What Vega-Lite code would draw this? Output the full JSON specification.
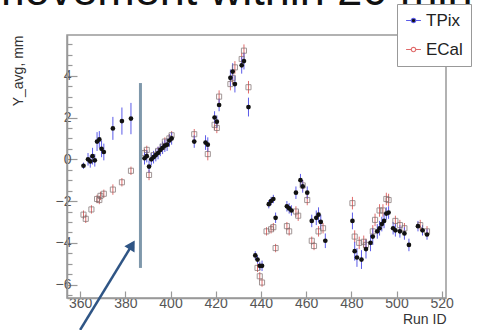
{
  "$schema": "https://vega.github.io/schema/vega-lite/v6.json",
  "width": 379,
  "height": 263,
  "autosize": "none",
  "padding": {"left": 67, "top": 35, "right": 34, "bottom": 32},
  "background": "white",
  "config": {
    "font": "Liberation Sans",
    "view": {"stroke": "#999", "strokeWidth": 1.5},
    "axis": {"grid": false, "domainColor": "#999", "domainWidth": 1.5, "tickColor": "#999", "labelColor": "#555", "titleColor": "#333", "labelFont": "Liberation Sans", "titleFont": "Liberation Sans", "titleFontWeight": "normal"}
  },
  "datasets": {
    "tpix": [
      {"run": 361.5, "y": -0.31, "e": 0.15}, {"run": 363.5, "y": 0.0, "e": 0.3}, {"run": 364.5, "y": -0.1, "e": 0.3},
      {"run": 365.5, "y": 0.15, "e": 0.4}, {"run": 366.5, "y": -0.05, "e": 0.3}, {"run": 367.5, "y": 0.85, "e": 0.45},
      {"run": 368.5, "y": 0.95, "e": 0.4}, {"run": 369.5, "y": 0.5, "e": 0.4}, {"run": 370.5, "y": 0.35, "e": 0.4},
      {"run": 374.5, "y": 1.48, "e": 0.55}, {"run": 378.5, "y": 1.83, "e": 0.65}, {"run": 382.5, "y": 1.95, "e": 0.75},
      {"run": 388.5, "y": 0.05, "e": 0.3}, {"run": 389.5, "y": 0.15, "e": 0.3}, {"run": 390.5, "y": -0.35, "e": 0.3},
      {"run": 391.5, "y": 0.0, "e": 0.3}, {"run": 392.5, "y": 0.1, "e": 0.3}, {"run": 393.5, "y": 0.2, "e": 0.3},
      {"run": 394.5, "y": 0.3, "e": 0.3}, {"run": 395.5, "y": 0.45, "e": 0.3}, {"run": 396.5, "y": 0.55, "e": 0.3},
      {"run": 397.5, "y": 0.65, "e": 0.3}, {"run": 398.5, "y": 0.7, "e": 0.3}, {"run": 399.5, "y": 0.9, "e": 0.3},
      {"run": 400.5, "y": 1.0, "e": 0.3}, {"run": 410.5, "y": 0.85, "e": 0.3}, {"run": 415.5, "y": 0.8, "e": 0.35},
      {"run": 416.5, "y": 0.7, "e": 0.35}, {"run": 419.5, "y": 2.0, "e": 0.3}, {"run": 420.5, "y": 1.8, "e": 0.3},
      {"run": 421.5, "y": 2.6, "e": 0.3}, {"run": 426.5, "y": 3.9, "e": 0.4}, {"run": 427.5, "y": 4.2, "e": 0.4},
      {"run": 428.5, "y": 3.6, "e": 0.4}, {"run": 431.5, "y": 4.5, "e": 0.4}, {"run": 432.5, "y": 4.7, "e": 0.4},
      {"run": 434.5, "y": 2.5, "e": 0.45}, {"run": 437.5, "y": -4.6, "e": 0.2}, {"run": 438.5, "y": -4.8, "e": 0.2},
      {"run": 439.5, "y": -5.1, "e": 0.2}, {"run": 440.5, "y": -5.1, "e": 0.25}, {"run": 443.5, "y": -2.15, "e": 0.2},
      {"run": 444.5, "y": -2.0, "e": 0.2}, {"run": 445.5, "y": -1.9, "e": 0.2}, {"run": 446.5, "y": -2.8, "e": 0.25},
      {"run": 451.5, "y": -2.25, "e": 0.25}, {"run": 452.5, "y": -2.35, "e": 0.25}, {"run": 453.5, "y": -2.45, "e": 0.25},
      {"run": 455.5, "y": -1.6, "e": 0.3}, {"run": 457.5, "y": -1.0, "e": 0.3}, {"run": 458.5, "y": -1.3, "e": 0.3},
      {"run": 460.5, "y": -1.6, "e": 0.3}, {"run": 462.5, "y": -2.95, "e": 0.3}, {"run": 464.5, "y": -2.8, "e": 0.35},
      {"run": 465.5, "y": -2.65, "e": 0.35}, {"run": 466.5, "y": -3.0, "e": 0.35}, {"run": 468.5, "y": -3.9, "e": 0.35},
      {"run": 480.5, "y": -2.95, "e": 0.4}, {"run": 481.5, "y": -4.4, "e": 0.45}, {"run": 482.5, "y": -4.7, "e": 0.45},
      {"run": 484.5, "y": -4.8, "e": 0.45}, {"run": 486.5, "y": -4.3, "e": 0.45}, {"run": 488.5, "y": -4.0, "e": 0.4},
      {"run": 489.5, "y": -3.7, "e": 0.4}, {"run": 491.5, "y": -3.45, "e": 0.35}, {"run": 492.5, "y": -3.3, "e": 0.35},
      {"run": 493.5, "y": -3.1, "e": 0.35}, {"run": 494.5, "y": -2.95, "e": 0.35}, {"run": 495.5, "y": -2.6, "e": 0.3},
      {"run": 496.5, "y": -2.55, "e": 0.3}, {"run": 498.5, "y": -3.3, "e": 0.3}, {"run": 499.5, "y": -3.4, "e": 0.3},
      {"run": 501.5, "y": -3.45, "e": 0.3}, {"run": 503.5, "y": -3.55, "e": 0.3}, {"run": 505.5, "y": -4.1, "e": 0.3},
      {"run": 509.5, "y": -3.2, "e": 0.25}, {"run": 511.5, "y": -3.4, "e": 0.25}, {"run": 513.5, "y": -3.6, "e": 0.25}
    ],
    "ecal": [
      {"run": 361.5, "y": -2.65, "e": 0.2}, {"run": 362.5, "y": -2.85, "e": 0.2}, {"run": 365.0, "y": -2.4, "e": 0.2},
      {"run": 367.5, "y": -1.9, "e": 0.2}, {"run": 368.5, "y": -1.95, "e": 0.2}, {"run": 369.0, "y": -1.75, "e": 0.2},
      {"run": 370.5, "y": -1.65, "e": 0.2}, {"run": 374.5, "y": -1.45, "e": 0.25}, {"run": 378.5, "y": -1.1, "e": 0.2},
      {"run": 382.5, "y": -0.55, "e": 0.2}, {"run": 388.5, "y": 0.3, "e": 0.2}, {"run": 389.5, "y": 0.45, "e": 0.2},
      {"run": 390.5, "y": -0.75, "e": 0.25}, {"run": 392.5, "y": 0.2, "e": 0.2}, {"run": 394.5, "y": 0.4, "e": 0.2},
      {"run": 396.5, "y": 0.6, "e": 0.2}, {"run": 397.5, "y": 0.85, "e": 0.2}, {"run": 399.5, "y": 1.0, "e": 0.2},
      {"run": 400.5, "y": 1.15, "e": 0.2}, {"run": 410.5, "y": 1.2, "e": 0.25}, {"run": 416.5, "y": 0.25, "e": 0.3},
      {"run": 419.5, "y": 1.65, "e": 0.25}, {"run": 420.5, "y": 1.5, "e": 0.25}, {"run": 421.5, "y": 3.0, "e": 0.3},
      {"run": 426.5, "y": 3.6, "e": 0.3}, {"run": 427.5, "y": 3.9, "e": 0.3}, {"run": 428.5, "y": 4.4, "e": 0.3},
      {"run": 431.5, "y": 4.8, "e": 0.3}, {"run": 432.5, "y": 5.2, "e": 0.3}, {"run": 434.5, "y": 3.45, "e": 0.3},
      {"run": 438.5, "y": -5.2, "e": 0.2}, {"run": 439.5, "y": -5.6, "e": 0.2}, {"run": 440.5, "y": -5.9, "e": 0.2},
      {"run": 442.5, "y": -3.45, "e": 0.2}, {"run": 444.5, "y": -3.35, "e": 0.2}, {"run": 445.5, "y": -3.25, "e": 0.2},
      {"run": 446.5, "y": -4.25, "e": 0.2}, {"run": 451.5, "y": -3.2, "e": 0.2}, {"run": 452.5, "y": -3.45, "e": 0.2},
      {"run": 455.5, "y": -2.5, "e": 0.25}, {"run": 456.5, "y": -2.7, "e": 0.25}, {"run": 458.5, "y": -1.25, "e": 0.25},
      {"run": 460.5, "y": -1.95, "e": 0.25}, {"run": 462.5, "y": -3.9, "e": 0.2}, {"run": 463.5, "y": -4.15, "e": 0.2},
      {"run": 465.5, "y": -3.45, "e": 0.25}, {"run": 467.5, "y": -3.3, "e": 0.25}, {"run": 480.5, "y": -2.1, "e": 0.3},
      {"run": 481.5, "y": -3.7, "e": 0.3}, {"run": 483.5, "y": -4.0, "e": 0.3}, {"run": 485.5, "y": -3.95, "e": 0.3},
      {"run": 486.5, "y": -4.1, "e": 0.3}, {"run": 489.5, "y": -3.45, "e": 0.3}, {"run": 490.5, "y": -2.9, "e": 0.3},
      {"run": 492.5, "y": -2.45, "e": 0.3}, {"run": 494.0, "y": -2.45, "e": 0.3}, {"run": 495.5, "y": -1.9, "e": 0.3},
      {"run": 496.5, "y": -1.95, "e": 0.3}, {"run": 499.5, "y": -2.95, "e": 0.25}, {"run": 501.5, "y": -3.15, "e": 0.25},
      {"run": 503.5, "y": -3.3, "e": 0.25}, {"run": 510.5, "y": -3.15, "e": 0.25}, {"run": 513.5, "y": -3.45, "e": 0.25}
    ],
    "marker": [{"run": 386.7, "y0": -5.2, "y1": 3.65}],
    "arrow": [{"run0": 360.0, "y0": -8.17, "run1": 383.0, "y1": -4.1}],
    "head": [{"run": 383.0, "y": -4.1}],
    "heading": [{"run": 318.9, "y": 7.38, "text": "movement within 20 min"}],
    "ticks": [{"run": 400, "y": -6.5}]
  },
  "resolve": {"axis": {"y": "independent"}},
  "layer": [
    {
      "layer": [
        {
          "data": {"name": "heading"},
          "mark": {"type": "text", "align": "left", "baseline": "alphabetic", "fontSize": 45, "font": "Liberation Sans", "color": "#111", "clip": false},
          "encoding": {
            "x": {"field": "run", "type": "quantitative", "scale": {"domain": [354.2, 521.9], "nice": false, "zero": false},
                  "axis": {"values": [360, 380, 400, 420, 440, 460, 480, 500, 520], "title": "Run ID", "titleAnchor": "end", "titleFontSize": 14, "titlePadding": 2, "labelFontSize": 14, "tickSize": -7, "tickWidth": 1.2, "labelPadding": 5, "labelFlush": false}},
            "y": {"field": "y", "type": "quantitative", "scale": {"domain": [-6.64, 5.95], "nice": false, "zero": false},
                  "axis": {"values": [-6, -4, -2, 0, 2, 4], "title": "Y_avg, mm", "titleAnchor": "end", "titleFontSize": 14, "titlePadding": 30, "labelFontSize": 14, "tickSize": -10, "tickWidth": 1.2, "labelPadding": 6}},
            "text": {"field": "text"}
          }
        },
        {
          "data": {"name": "ecal"},
          "transform": [{"calculate": "'ECal'", "as": "series"}, {"calculate": "datum.y - datum.e", "as": "lo"}, {"calculate": "datum.y + datum.e", "as": "hi"}],
          "mark": {"type": "rule", "strokeWidth": 1},
          "encoding": {
            "x": {"field": "run", "type": "quantitative"},
            "y": {"field": "lo", "type": "quantitative"},
            "y2": {"field": "hi"},
            "color": {"field": "series", "type": "nominal", "scale": {"domain": ["TPix", "ECal"], "range": ["#5b5be8", "#e06a6a"]},
                      "legend": {"orient": "none", "legendX": 330, "legendY": -31, "title": null, "fillColor": "white", "strokeColor": "#999", "padding": 8, "labelFontSize": 17, "labelColor": "#222", "symbolSize": 220, "rowPadding": 11, "labelOffset": 4, "symbolStrokeWidth": 1.2,
                                 "symbolType": "M-1,0H-0.3M0.3,0H1M0.3,0A0.3,0.3,0,1,1,-0.3,0A0.3,0.3,0,1,1,0.3,0",
                                 "encode": {"symbols": {"update": {"fill": {"signal": "datum.value === 'TPix' ? '#111' : 'white'"}}}}}}
          }
        },
        {
          "data": {"name": "tpix"},
          "transform": [{"calculate": "'TPix'", "as": "series"}, {"calculate": "datum.y - datum.e", "as": "lo"}, {"calculate": "datum.y + datum.e", "as": "hi"}],
          "mark": {"type": "rule", "strokeWidth": 1},
          "encoding": {
            "x": {"field": "run", "type": "quantitative"},
            "y": {"field": "lo", "type": "quantitative"},
            "y2": {"field": "hi"},
            "color": {"field": "series", "type": "nominal"}
          }
        },
        {
          "data": {"name": "ecal"},
          "mark": {"type": "point", "shape": "square", "filled": false, "size": 26, "stroke": "#7a6a6a", "strokeWidth": 1},
          "encoding": {
            "x": {"field": "run", "type": "quantitative"},
            "y": {"field": "y", "type": "quantitative"}
          }
        },
        {
          "data": {"name": "tpix"},
          "mark": {"type": "point", "shape": "circle", "filled": true, "size": 22, "color": "#111", "opacity": 1},
          "encoding": {
            "x": {"field": "run", "type": "quantitative"},
            "y": {"field": "y", "type": "quantitative"}
          }
        },
        {
          "data": {"name": "marker"},
          "mark": {"type": "rule", "color": "#7f98ab", "strokeWidth": 3},
          "encoding": {
            "x": {"field": "run", "type": "quantitative"},
            "y": {"field": "y0", "type": "quantitative"},
            "y2": {"field": "y1"}
          }
        },
        {
          "data": {"name": "arrow"},
          "mark": {"type": "rule", "color": "#2f5585", "strokeWidth": 2.5, "clip": false},
          "encoding": {
            "x": {"field": "run0", "type": "quantitative"},
            "x2": {"field": "run1"},
            "y": {"field": "y0", "type": "quantitative"},
            "y2": {"field": "y1"}
          }
        },
        {
          "data": {"name": "head"},
          "mark": {"type": "point", "shape": "triangle-up", "filled": true, "size": 140, "color": "#2f5585", "opacity": 1, "angle": 31, "clip": false},
          "encoding": {
            "x": {"field": "run", "type": "quantitative"},
            "y": {"field": "y", "type": "quantitative"}
          }
        }
      ]
    },
    {
      "data": {"name": "ticks"},
      "mark": {"type": "point", "opacity": 0},
      "encoding": {
        "x": {"field": "run", "type": "quantitative"},
        "y": {"field": "y", "type": "quantitative",
              "axis": {"orient": "left", "values": [-6.5, -5.5, -5, -4.5, -3.5, -3, -2.5, -1.5, -1, -0.5, 0.5, 1, 1.5, 2.5, 3, 3.5, 4.5, 5, 5.5], "labels": false, "title": null, "domain": false, "tickSize": -5, "tickWidth": 1.2}}
      }
    }
  ]
}
